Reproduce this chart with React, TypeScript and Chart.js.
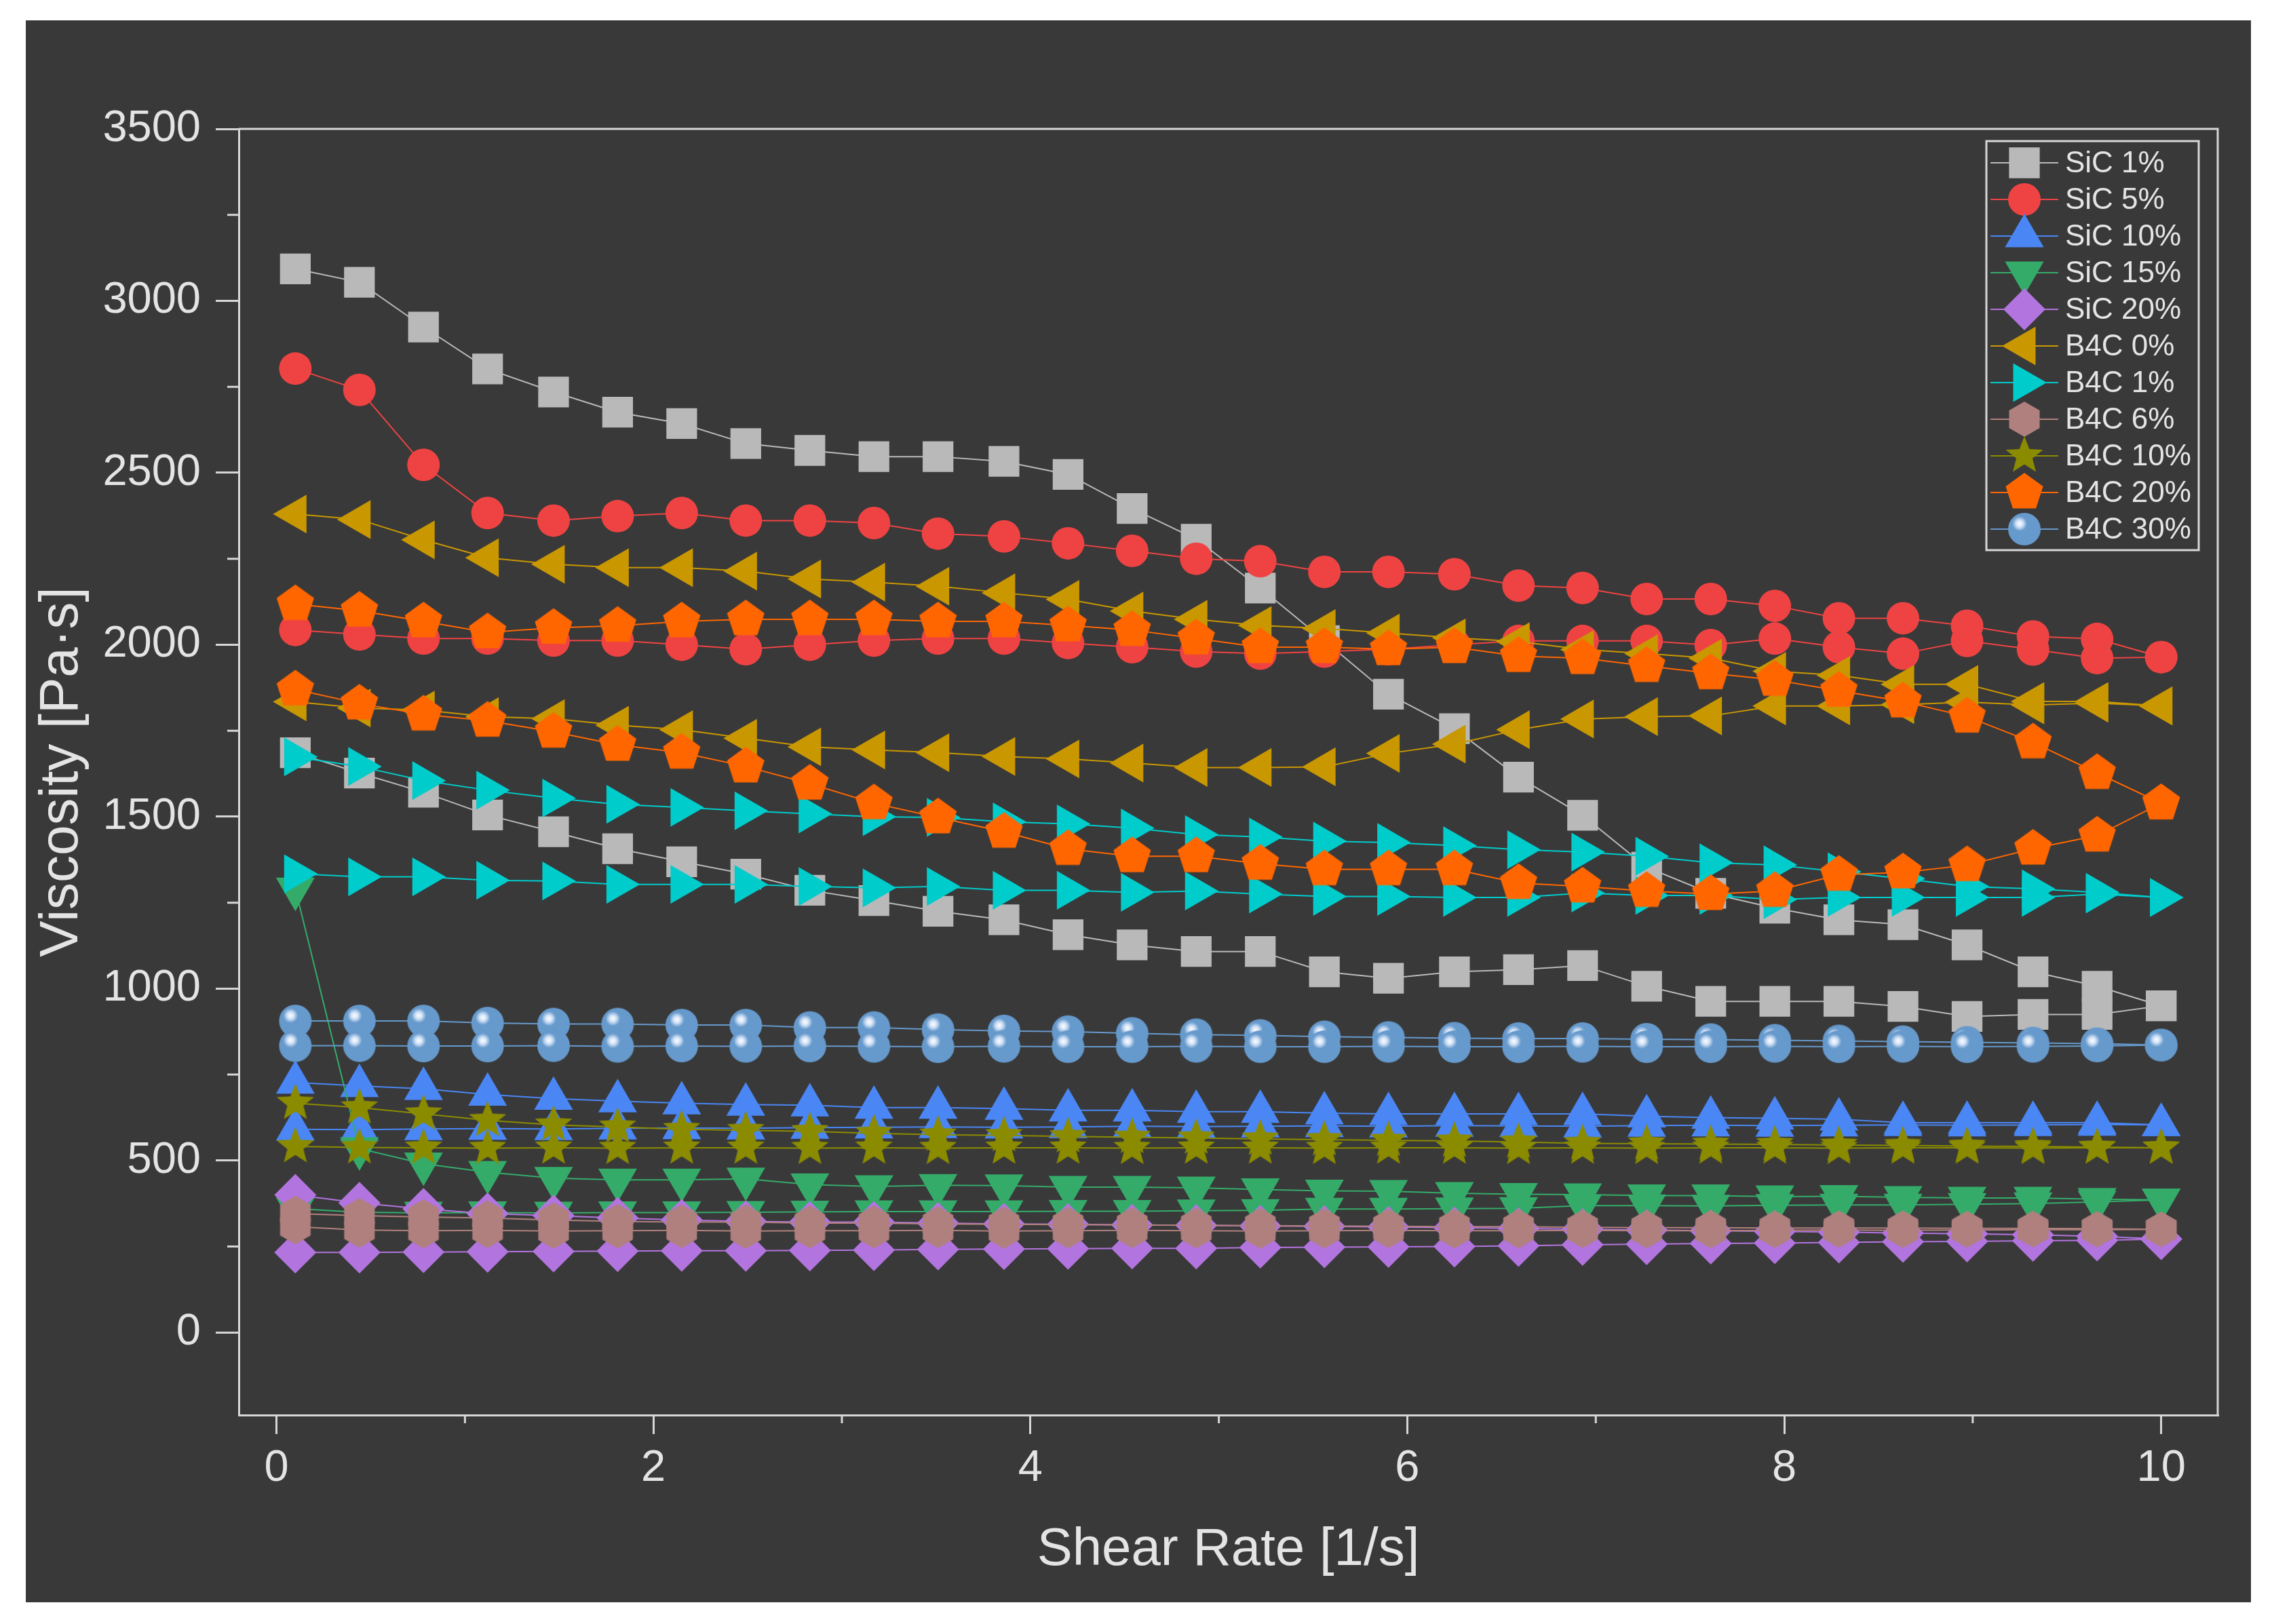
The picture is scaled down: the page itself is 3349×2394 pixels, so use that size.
import { useEffect, useRef } from 'react';
import { Chart } from 'chart.js/auto';
import { drawPoint } from 'chart.js/helpers';

// shear rate steps (1/s), shared by the ramp-up and ramp-down sweeps
const shearRate = [0.1, 0.44, 0.78, 1.12, 1.47, 1.81, 2.15, 2.49, 2.83, 3.17, 3.51, 3.86, 4.2, 4.54, 4.88,
    5.22, 5.56, 5.9, 6.25, 6.59, 6.93, 7.27, 7.61, 7.95, 8.29, 8.63, 8.97, 9.32, 9.66, 10];

// viscosity (Pa·s): "Up" = increasing shear rate, "Down" = return sweep (listed by ascending shear rate)
const sic1Up = [3093, 3054, 2924, 2802, 2735, 2676, 2643, 2585, 2565, 2547, 2547, 2533, 2495, 2396, 2307, 2165, 2012, 1856, 1756, 1615, 1504, 1353, 1277, 1234, 1200, 1186, 1127, 1049, 1007, 950];
const sic1Down = [1686, 1627, 1571, 1505, 1456, 1407, 1369, 1333, 1286, 1256, 1225, 1200, 1157, 1127, 1108, 1108, 1049, 1030, 1049, 1055, 1067, 1007, 963, 963, 963, 948, 919, 925, 925, 950];
const sic5Up = [2803, 2741, 2523, 2383, 2361, 2374, 2383, 2361, 2361, 2354, 2323, 2315, 2295, 2273, 2250, 2243, 2212, 2212, 2205, 2172, 2165, 2133, 2133, 2113, 2077, 2077, 2055, 2024, 2017, 1964];
const sic5Down = [2043, 2030, 2018, 2018, 2012, 2012, 2000, 1987, 2000, 2012, 2018, 2018, 2005, 1993, 1980, 1974, 1980, 1987, 2000, 2011, 2011, 2011, 1999, 2018, 1993, 1974, 2011, 1986, 1961, 1964];
const sic10Up = [727, 717, 709, 692, 680, 673, 667, 663, 661, 654, 654, 651, 646, 646, 642, 642, 638, 636, 636, 636, 636, 629, 625, 623, 620, 610, 610, 610, 610, 604];
const sic10Down = [591, 590, 592, 593, 592, 594, 595, 594, 596, 597, 598, 597, 598, 600, 599, 600, 601, 600, 602, 601, 600, 602, 603, 602, 603, 604, 603, 604, 605, 604];
const sic15Up = [1290, 535, 491, 466, 449, 444, 444, 447, 430, 425, 428, 427, 423, 423, 421, 416, 412, 411, 405, 402, 401, 398, 398, 395, 396, 393, 391, 391, 388, 386];
const sic15Down = [360, 350, 348, 349, 348, 349, 349, 350, 351, 352, 352, 352, 353, 353, 354, 355, 359, 359, 360, 361, 369, 369, 368, 370, 371, 371, 373, 375, 380, 386];
const sic20Up = [400, 377, 359, 346, 340, 333, 327, 323, 321, 321, 318, 316, 315, 313, 312, 310, 309, 307, 305, 303, 300, 298, 296, 294, 292, 289, 287, 284, 280, 272];
const sic20Down = [233, 233, 234, 235, 236, 237, 238, 238, 239, 240, 242, 243, 244, 245, 245, 247, 248, 249, 250, 252, 255, 257, 259, 260, 262, 264, 265, 267, 268, 272];
const b4c0Up = [2380, 2364, 2305, 2253, 2234, 2224, 2224, 2214, 2191, 2182, 2170, 2151, 2132, 2098, 2074, 2056, 2047, 2034, 2020, 2009, 1986, 1974, 1961, 1923, 1911, 1885, 1885, 1835, 1835, 1822];
const b4c0Down = [1834, 1816, 1810, 1791, 1785, 1766, 1753, 1728, 1703, 1694, 1686, 1675, 1668, 1656, 1643, 1643, 1645, 1684, 1711, 1753, 1784, 1791, 1793, 1822, 1822, 1826, 1833, 1825, 1830, 1822];
const b4c1Up = [1674, 1646, 1605, 1577, 1554, 1536, 1527, 1517, 1508, 1500, 1498, 1485, 1479, 1467, 1448, 1441, 1429, 1425, 1416, 1404, 1397, 1385, 1366, 1360, 1340, 1320, 1297, 1290, 1280, 1265];
const b4c1Down = [1334, 1325, 1325, 1315, 1313, 1303, 1303, 1303, 1297, 1293, 1297, 1286, 1286, 1280, 1284, 1275, 1268, 1268, 1265, 1265, 1278, 1271, 1271, 1259, 1265, 1265, 1265, 1265, 1275, 1265];
const b4c6Up = [346, 340, 336, 333, 327, 323, 321, 321, 318, 318, 316, 315, 314, 313, 312, 311, 310, 309, 308, 308, 306, 305, 305, 304, 304, 304, 303, 303, 302, 300];
const b4c6Down = [308, 298, 296, 297, 295, 296, 297, 295, 296, 296, 297, 295, 296, 297, 296, 295, 296, 297, 296, 296, 297, 296, 296, 297, 298, 297, 298, 299, 299, 300];
const b4c10Up = [667, 654, 636, 617, 604, 598, 591, 588, 585, 579, 575, 573, 570, 568, 566, 563, 561, 559, 557, 554, 550, 549, 548, 547, 545, 544, 542, 541, 539, 537];
const b4c10Down = [541, 538, 537, 536, 537, 536, 537, 537, 536, 537, 536, 537, 537, 536, 537, 537, 536, 537, 537, 536, 537, 536, 537, 537, 536, 537, 537, 536, 537, 537];
const b4c20Up = [2118, 2099, 2068, 2036, 2049, 2055, 2068, 2074, 2074, 2074, 2068, 2068, 2056, 2043, 2018, 1993, 1993, 1987, 1993, 1967, 1961, 1938, 1917, 1898, 1866, 1835, 1791, 1716, 1627, 1539];
const b4c20Down = [1870, 1829, 1797, 1779, 1747, 1709, 1686, 1646, 1596, 1539, 1498, 1456, 1406, 1385, 1385, 1363, 1347, 1347, 1347, 1307, 1297, 1284, 1275, 1284, 1331, 1338, 1359, 1407, 1445, 1539];
const b4c30Up = [906, 906, 906, 900, 897, 897, 894, 894, 887, 887, 881, 877, 875, 870, 866, 864, 860, 858, 856, 855, 855, 853, 852, 850, 848, 846, 844, 842, 840, 836];
const b4c30Down = [834, 834, 833, 833, 834, 832, 833, 832, 833, 832, 831, 832, 831, 831, 832, 831, 831, 832, 831, 831, 832, 831, 831, 832, 831, 832, 831, 832, 833, 836];

const seriesLabels = ['SiC 1%', 'SiC 5%', 'SiC 10%', 'SiC 15%', 'SiC 20%',
    'B4C 0%', 'B4C 1%', 'B4C 6%', 'B4C 10%', 'B4C 20%', 'B4C 30%'];
const seriesUp = [sic1Up, sic5Up, sic10Up, sic15Up, sic20Up, b4c0Up, b4c1Up, b4c6Up, b4c10Up, b4c20Up, b4c30Up];
const seriesDown = [sic1Down, sic5Down, sic10Down, sic15Down, sic20Down, b4c0Down, b4c1Down, b4c6Down, b4c10Down, b4c20Down, b4c30Down];

const xTicks = [0, 2, 4, 6, 8, 10];
const yTicks = [0, 500, 1000, 1500, 2000, 2500, 3000, 3500];
const xMinorTicks = [1, 3, 5, 7, 9];
const yMinorTicks = [250, 750, 1250, 1750, 2250, 2750, 3250];

const BG = '#393939';
const AXIS = '#d6d6d6';
const TEXT = '#e4e4e4';
const FONT = "'Liberation Sans', Arial, sans-serif";

// custom filled markers (hexagon, star, pentagon, shaded ball)
function polygonMarker(color: string, points: number, outer: number, inner?: number) {
    const c = document.createElement('canvas');
    c.width = 64;
    c.height = 64;
    const ctx = c.getContext('2d')!;
    ctx.fillStyle = color;
    ctx.beginPath();
    const n = inner ? points * 2 : points;
    for (let i = 0; i < n; i++) {
        const a = -Math.PI / 2 + (i * 2 * Math.PI) / n;
        const r = inner && i % 2 === 1 ? inner : outer;
        const px = 32 + Math.cos(a) * r;
        const py = 32 + Math.sin(a) * r;
        if (i === 0) ctx.moveTo(px, py); else ctx.lineTo(px, py);
    }
    ctx.closePath();
    ctx.fill();
    return c;
}

function ballMarker(color: string, r: number) {
    const c = document.createElement('canvas');
    c.width = 64;
    c.height = 64;
    const ctx = c.getContext('2d')!;
    ctx.fillStyle = color;
    ctx.beginPath();
    ctx.arc(32, 32, r, 0, Math.PI * 2);
    ctx.fill();
    const g = ctx.createRadialGradient(25, 24, 0, 25, 24, 11);
    g.addColorStop(0, 'rgba(255,255,255,1)');
    g.addColorStop(0.45, 'rgba(230,240,255,0.85)');
    g.addColorStop(1, 'rgba(230,240,255,0)');
    ctx.fillStyle = g;
    ctx.beginPath();
    ctx.arc(25, 24, 11, 0, Math.PI * 2);
    ctx.fill();
    return c;
}

function makeStyles() {
    return [
        { color: '#b9b9b9', pointStyle: 'rect' as any, radius: 32, rotation: 0 },
        { color: '#ef4343', pointStyle: 'circle' as any, radius: 24, rotation: 0 },
        { color: '#4a86f4', pointStyle: 'triangle' as any, radius: 33, rotation: 0 },
        { color: '#35ab6a', pointStyle: 'triangle' as any, radius: 33, rotation: 180 },
        { color: '#b274de', pointStyle: 'rectRot' as any, radius: 31, rotation: 0 },
        { color: '#c99700', pointStyle: 'triangle' as any, radius: 33, rotation: 270 },
        { color: '#00cccc', pointStyle: 'triangle' as any, radius: 33, rotation: 90 },
        { color: '#b0807e', pointStyle: polygonMarker('#b0807e', 6, 26) as any, radius: 26, rotation: 0 },
        { color: '#8b8b00', pointStyle: polygonMarker('#8b8b00', 5, 29, 12.5) as any, radius: 28, rotation: 0 },
        { color: '#ff6600', pointStyle: polygonMarker('#ff6600', 5, 29) as any, radius: 28, rotation: 0 },
        { color: '#6699cc', pointStyle: ballMarker('#6699cc', 24) as any, radius: 24, rotation: 0 },
    ];
}

function loop(up: number[], down: number[]) {
    const pts = up.map((y, i) => ({ x: shearRate[i], y }));
    for (let i = down.length - 1; i >= 0; i--) pts.push({ x: shearRate[i], y: down[i] });
    return pts;
}

function ViscosityChart() {
    const canvasRef = useRef<HTMLCanvasElement>(null);

    useEffect(() => {
        if (!canvasRef.current) return;
        const styles = makeStyles();

        const frame = {
            id: 'originFrame',
            afterDraw(chart: any) {
                const { ctx, chartArea: { left, right, top, bottom }, scales: { x, y } } = chart;
                ctx.save();
                ctx.strokeStyle = AXIS;
                ctx.lineWidth = 3;
                ctx.beginPath();
                ctx.moveTo(left, top);
                ctx.lineTo(right, top);
                ctx.lineTo(right, bottom);
                yMinorTicks.forEach(v => {
                    const py = y.getPixelForValue(v);
                    ctx.moveTo(left - 17, py);
                    ctx.lineTo(left, py);
                });
                xMinorTicks.forEach(v => {
                    const px = x.getPixelForValue(v);
                    ctx.moveTo(px, bottom);
                    ctx.lineTo(px, bottom + 12);
                });
                ctx.stroke();

                // legend box
                const bx = right - 341, by = top + 18, bw = 313, bh = 603;
                ctx.fillStyle = BG;
                ctx.fillRect(bx, by, bw, bh);
                ctx.strokeRect(bx, by, bw, bh);
                ctx.font = `44px ${FONT}`;
                ctx.textBaseline = 'middle';
                ctx.textAlign = 'left';
                seriesLabels.forEach((label, i) => {
                    const cy = by + 32 + i * 54;
                    const s = styles[i];
                    ctx.strokeStyle = s.color;
                    ctx.lineWidth = 2;
                    ctx.beginPath();
                    ctx.moveTo(bx + 6, cy);
                    ctx.lineTo(bx + 106, cy);
                    ctx.stroke();
                    ctx.fillStyle = s.color;
                    drawPoint(ctx, { pointStyle: s.pointStyle, rotation: s.rotation, radius: s.radius, borderWidth: 0 } as any, bx + 56, cy);
                    ctx.fillStyle = TEXT;
                    ctx.fillText(label, bx + 116, cy + 2);
                });
                ctx.restore();
            }
        };

        const chart = new Chart(canvasRef.current, {
            type: 'scatter',
            data: {
                datasets: seriesLabels.map((label, i) => ({
                    label,
                    data: loop(seriesUp[i], seriesDown[i]),
                    showLine: true,
                    borderColor: styles[i].color,
                    borderWidth: 2,
                    backgroundColor: styles[i].color,
                    pointBackgroundColor: styles[i].color,
                    pointBorderWidth: 0,
                    pointStyle: styles[i].pointStyle,
                    pointRadius: styles[i].radius,
                    pointRotation: styles[i].rotation,
                    order: seriesLabels.length - i,
                })),
            },
            options: {
                responsive: false,
                devicePixelRatio: 1,
                animation: false,
                layout: { padding: { left: 0, top: 160, right: 49, bottom: 30 } },
                plugins: {
                    legend: { display: false },
                    tooltip: { enabled: false },
                },
                scales: {
                    x: {
                        type: 'linear',
                        min: -0.2,
                        max: 10.3,
                        afterBuildTicks: (s: any) => { s.ticks = xTicks.map(value => ({ value })); },
                        ticks: {
                            color: TEXT,
                            font: { size: 65, family: FONT },
                            padding: 12,
                            maxRotation: 0,
                            autoSkip: false,
                            callback: (v: any) => String(v),
                        },
                        grid: { drawOnChartArea: false, drawTicks: true, tickLength: 28, tickWidth: 3, lineWidth: 3, tickColor: AXIS, color: AXIS },
                        border: { display: true, color: AXIS, width: 3 },
                        title: { display: true, text: 'Shear Rate [1/s]', color: TEXT, font: { size: 78, family: FONT }, padding: 0 },
                        afterFit: (s: any) => { s.height = 246; },
                    },
                    y: {
                        type: 'linear',
                        min: -240,
                        max: 3500,
                        afterBuildTicks: (s: any) => { s.ticks = yTicks.map(value => ({ value })); },
                        ticks: {
                            color: TEXT,
                            font: { size: 65, family: FONT },
                            padding: 22,
                            autoSkip: false,
                            callback: (v: any) => String(v),
                        },
                        grid: { drawOnChartArea: false, drawTicks: true, tickLength: 34, tickWidth: 3, lineWidth: 3, tickColor: AXIS, color: AXIS },
                        border: { display: true, color: AXIS, width: 3 },
                        title: { display: true, text: 'Viscosity [Pa·s]', color: TEXT, font: { size: 80, family: FONT }, padding: { top: 6, bottom: 0 } },
                        afterFit: (s: any) => { s.width = 314; },
                    },
                },
            },
            plugins: [frame],
        } as any);

        return () => {
            chart.destroy();
        };
    }, []);

    return <canvas ref={canvasRef} width={3280} height={2332} style={{ display: 'block', width: 3280, height: 2332 }} />;
}

export default function App() {
    return (
        <div style={{ position: 'relative', width: 3333, height: 2378, background: '#ffffff' }}>
            <div style={{ position: 'absolute', left: 30, top: 22, width: 3280, height: 2332, background: BG }}>
                <ViscosityChart />
            </div>
        </div>
    );
}
